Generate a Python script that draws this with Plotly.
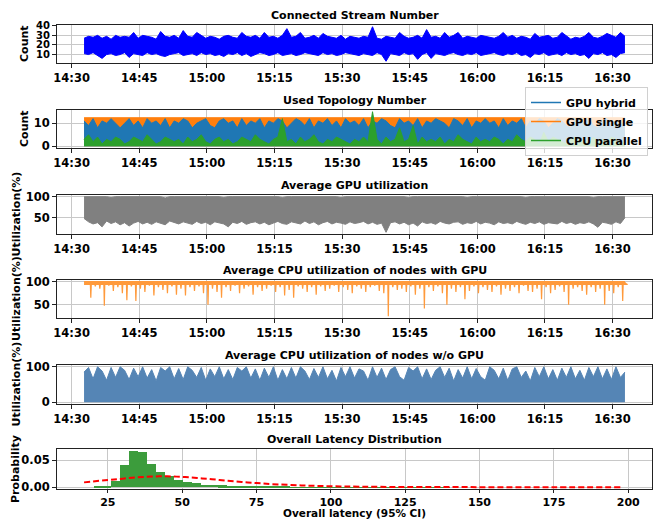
import pandas as pd
import plotly.graph_objects as go

# ---------------- data (per-minute envelopes) ----------------
start_time = "2019-01-01 14:32:45"
n_minutes = 121
times = pd.date_range(start_time, periods=n_minutes, freq="1min")

stream_hi = [27,29,28,30,27,29,26,30,28,29,
             28,33,27,30,29,28,26,34,29,28,
             30,27,35,29,28,33,30,27,29,28,
             26,29,30,28,27,33,29,28,30,27,
             33,28,29,27,30,37,28,29,33,27,
             28,30,27,32,29,28,27,30,26,29,
             28,27,29,28,39,27,26,29,28,27,
             33,29,27,28,30,27,36,28,29,27,
             33,28,30,33,27,29,28,27,30,29,
             28,27,29,33,28,30,27,29,28,26,
             32,28,29,30,27,28,33,29,26,28,
             27,29,33,28,27,29,32,30,28,33,
             29]
stream_lo = [11,10,12,9,6,10,11,9,10,12,
             7,11,10,9,12,10,11,9,8,10,
             11,12,9,10,11,9,12,10,11,9,
             10,8,11,10,12,9,11,8,10,12,
             11,9,10,12,9,10,11,9,10,12,
             11,10,9,12,10,11,9,10,12,11,
             10,9,11,10,9,12,10,3,11,10,
             9,12,10,11,5,10,12,6,11,10,
             9,11,12,10,9,11,10,12,9,10,
             11,12,10,9,11,10,12,9,10,7,
             11,10,12,9,10,11,9,12,10,11,
             9,10,6,11,10,12,9,10,7,11,
             12]

topo_single = [12.4,12.4,12.4,12.2,12.4,12.4,12.4,12.4,12.3,12.4,
               12.4,12.4,12.4,12.4,12.4,12.2,12.4,12.4,12.4,12.4,
               12.4,12.4,12.3,12.4,12.4,12.4,12.4,12.4,12.4,12.2,
               12.4,12.4,12.4,12.4,12.4,12.4,12.3,12.4,12.4,12.4,
               12.4,12.4,12.4,12.4,12.4,12.4,12.4,12.2,12.4,12.4,
               12.4,12.4,12.4,12.4,12.3,12.4,12.4,12.4,12.4,12.4,
               12.4,12.4,12.4,12.4,12.4,12.4,12.4,12.4,12.2,12.4,
               12.4,12.4,12.4,12.4,12.4,12.3,12.4,12.4,12.4,12.4,
               12.4,12.4,12.4,12.4,12.4,12.4,12.4,12.4,12.4,12.2,
               12.4,12.4,12.4,12.4,12.4,12.4,12.4,12.3,12.4,12.4,
               12.4,12.4,12.4,12.4,12.4,12.4,12.4,12.4,12.4,12.4,
               12.4,12.2,12.4,12.4,12.4,12.4,12.4,12.4,12.4,12.4,
               12.4]
topo_hybrid = [11,9,12,8,11,10,12,10,8,10,
               12,9,11,8,12,10,11,9,12,8,
               11,10,12,11,8,10,11,12,9,8,
               11,12,10,11,8,12,9,11,10,12,
               8,11,10,12,11,8,10,12,11,9,
               12,8,11,10,12,9,11,8,12,10,
               11,9,12,8,11,10,12,11,9,8,
               12,10,11,9,12,8,11,10,12,11,
               10,8,12,11,9,12,8,11,10,12,
               10,11,8,12,9,11,10,12,8,11,
               10,12,11,8,10,12,11,9,8,12,
               11,10,12,9,8,11,12,10,11,9,
               11]
topo_cpu = [3,5,2,4,1,3,2,4,3,1,
            2,4,3,2,5,3,1,2,4,3,
            2,3,1,4,2,3,5,2,1,3,
            4,2,3,1,2,4,3,2,5,3,
            2,1,3,4,12,2,3,1,4,2,
            3,5,2,1,3,2,4,3,2,1,
            3,2,4,2,15,3,1,4,2,3,
            8,2,3,9,1,4,2,3,2,4,
            1,3,2,5,3,2,1,4,2,3,
            2,4,3,1,3,2,5,3,2,4,
            3,1,6,2,4,3,2,1,3,4,
            2,3,1,4,2,3,2,4,3,1,
            2]

gpu_hi = [100,100,99,100,100,100,98,100,100,100,
          100,100,100,99,100,100,100,100,97,100,
          100,100,100,100,100,99,100,100,100,100,
          100,98,100,100,100,100,100,100,99,100,
          100,100,100,100,98,100,100,100,100,100,
          99,100,100,100,100,100,100,98,100,100,
          100,100,100,100,99,100,100,100,100,100,
          100,100,98,100,100,100,100,99,100,100,
          100,100,100,100,100,98,100,100,100,100,
          100,99,100,100,100,100,100,100,98,100,
          100,100,100,100,99,100,100,100,100,100,
          100,100,100,98,100,100,100,100,99,100,
          100]
gpu_lo = [48,40,35,38,28,42,36,40,33,38,
          30,37,41,35,39,34,40,36,33,42,
          38,35,40,37,34,41,36,39,33,40,
          37,35,28,39,36,41,34,38,40,35,
          39,33,37,41,36,34,40,38,35,42,
          36,40,33,38,41,35,39,37,34,40,
          36,38,41,35,39,34,37,15,38,40,
          35,39,33,37,30,40,36,38,34,41,
          37,35,39,40,34,38,36,41,35,39,
          37,33,40,36,38,35,41,37,34,39,
          36,40,34,38,37,35,41,36,39,34,
          38,36,40,35,27,39,37,34,40,36,
          50]

cpu_gpu_top = 100
cpu_gpu_band = 94
cpu_gpu_lo = [95,65,90,85,48,92,80,88,75,60,
              90,58,85,78,92,70,88,82,75,90,
              72,85,70,88,80,90,75,50,85,78,
              65,88,80,92,75,85,90,72,88,80,
              85,92,78,88,70,82,65,90,85,78,
              88,72,90,80,85,92,78,88,82,75,
              90,85,78,88,92,80,75,25,88,82,
              85,78,90,72,85,42,88,80,90,75,
              50,85,78,88,62,80,90,75,88,82,
              78,90,72,85,80,88,75,92,80,78,
              85,62,88,75,82,90,78,50,85,88,
              80,72,88,78,85,50,80,75,88,58,
              95]

cpu_nogpu_hi = [85,98,66,100,88,62,98,70,100,90,
                64,96,72,100,68,92,60,98,88,100,
                66,95,64,100,90,70,98,62,94,72,
                100,66,92,64,98,88,100,68,94,62,
                96,70,100,62,92,66,98,68,100,88,
                64,95,70,100,66,90,60,98,72,100,
                68,94,88,62,100,70,96,64,92,100,
                72,62,98,88,100,66,94,64,90,100,
                70,96,60,92,68,100,66,95,72,62,
                100,90,66,96,62,94,100,70,88,60,
                98,72,100,66,92,62,96,70,100,66,
                90,62,98,72,100,66,94,64,100,70,
                85]

lat_bin_start = 20.2
lat_bin_width = 3.0
lat_prob = [0.0008,0.0025,0.011,0.042,0.067,0.065,0.044,0.028,0.021,0.013,
            0.009,0.0075,0.005,0.004,0.0035,0.0025,0.002,0.0018,0.0015,0.0008,
            0.0005,0.0004,0.0003,0.0003,0.0003,0.0002,0.0002,0.0002,0.0001,0.0001,
            0.0001,0.0001,0.0001,0.0001,0.0001,0.0001,0.0001,0.0001,0.0001,0.0001]
fit_x = [17,25,30,35,40,45,50,55,60,65,70,75,80,90,100,110,125,150,175,198]
fit_y = [0.0090,0.0135,0.0160,0.0185,0.0200,0.0203,0.0192,0.0172,0.0148,0.0122,
         0.0098,0.0077,0.0058,0.0033,0.0018,0.0009,0.0004,0.0001,0.0,0.0]

x_range = ["2019-01-01 14:26:45", "2019-01-01 16:38:45"]
tick0 = "2019-01-01 14:30:00"

# ---------------- layout helpers ----------------
W, H = 654, 521
L, R = 57, 2
PW = W - L - R
FONT = "DejaVu Sans"
panels = [(25, 63), (110, 148), (195, 234), (280, 318), (365, 404), (449, 489)]
titles = ["Connected Stream Number", "Used Topology Number", "Average GPU utilization",
          "Average CPU utilization of nodes with GPU", "Average CPU utilization of nodes w/o GPU",
          "Overall Latency Distribution"]
ylabels = [("Count", 24), ("Count", 24), ("Utilization(%)", 16), ("Utilization(%)", 16),
           ("Utilization(%)", 16), ("Probability", 15)]

def py(p):
    return 1 - p / H

def px(p):
    return (p - L) / PW

fig = go.Figure()
bold = dict(family=FONT, size=11.5, color="black", weight="bold")
axis_common = dict(showline=True, mirror=True, linecolor="#222", linewidth=1,
                   ticks="outside", ticklen=4, tickcolor="#222", showgrid=True,
                   gridcolor="#c8c8c8", gridwidth=1, zeroline=False, tickfont=bold,
                   automargin=False)

layout = dict(width=W, height=H, margin=dict(l=L, r=R, t=0, b=0, autoexpand=False),
              plot_bgcolor="white", paper_bgcolor="white", showlegend=True,
              font=dict(family=FONT))
yranges = [[1.2, 40.8], [-0.75, 15.75], [11, 104], [21.3, 103.7], [-5, 105], [-0.0034, 0.0714]]
yticks = [[10, 20, 30, 40], [0, 10], [50, 100], [50, 100], [0, 100], [0, 0.05]]
for k, (t, b) in enumerate(panels):
    sfx = "" if k == 0 else str(k + 1)
    xa = dict(axis_common, domain=[0, 1], anchor="y" + sfx)
    if k < 5:
        xa.update(type="date", range=x_range, tick0=tick0, dtick=15 * 60 * 1000,
                  tickformat="%H:%M")
    else:
        xa.update(range=[7.9, 208], tickvals=[25, 50, 75, 100, 125, 150, 175, 200], ticklen=3,
                  tickfont=dict(bold, size=11))
    ya = dict(axis_common, domain=[py(b), py(t)], anchor="x" + sfx, range=yranges[k],
              tickvals=yticks[k])
    if k == 0:
        ya.update(tickfont=dict(bold, size=10))
    if k == 5:
        ya.update(tickformat=".2f")
    layout["xaxis" + sfx] = xa
    layout["yaxis" + sfx] = ya

annotations = []
for k, (t, b) in enumerate(panels):
    annotations.append(dict(text=titles[k], x=0.5, y=py(t - 10), xref="paper", yref="paper",
                            showarrow=False, font=dict(bold, size=11), xanchor="center",
                            yanchor="middle"))
    lab, lx = ylabels[k]
    annotations.append(dict(text=lab, x=px(lx), y=py((t + b) / 2), xref="paper", yref="paper",
                            showarrow=False, textangle=-90, font=dict(bold, size=11),
                            xanchor="center", yanchor="middle"))
annotations.append(dict(text="Overall latency (95% CI)", x=0.5, y=py(521), xref="paper",
                        yref="paper", showarrow=False, font=dict(bold, size=10.5),
                        xanchor="center", yanchor="bottom"))
layout["annotations"] = annotations
layout["legend"] = dict(x=px(648), y=py(87), xanchor="right", yanchor="top",
                        bgcolor="rgba(255,255,255,0.8)", bordercolor="#d0d0d0", borderwidth=1,
                        font=dict(bold, size=11), tracegroupgap=0, itemwidth=30,
                        traceorder="normal")
fig.update_layout(**layout)

# ---------------- panel 1 ----------------
fig.add_trace(go.Scatter(x=times, y=stream_lo, mode="lines", line=dict(color="blue", width=1),
                         showlegend=False, xaxis="x", yaxis="y"))
fig.add_trace(go.Scatter(x=times, y=stream_hi, mode="lines", line=dict(color="blue", width=1),
                         fill="tonexty", fillcolor="blue", showlegend=False, xaxis="x", yaxis="y"))

# ---------------- panel 2 ----------------
for vals, col in [(topo_single, "#ff7f0e"), (topo_hybrid, "#1f77b4"), (topo_cpu, "#2ca02c")]:
    fig.add_trace(go.Scatter(x=times, y=vals, mode="lines", line=dict(color=col, width=1),
                             fill="tozeroy", fillcolor=col, showlegend=False,
                             xaxis="x2", yaxis="y2"))
for name, col in [("GPU hybrid", "#1f77b4"), ("GPU single", "#ff7f0e"), ("CPU parallel", "#2ca02c")]:
    fig.add_trace(go.Scatter(x=[None], y=[None], mode="lines", line=dict(color=col, width=1.5),
                             name=name, xaxis="x2", yaxis="y2"))

# ---------------- panel 3 ----------------
fig.add_trace(go.Scatter(x=times, y=gpu_lo, mode="lines", line=dict(color="gray", width=1),
                         showlegend=False, xaxis="x3", yaxis="y3"))
fig.add_trace(go.Scatter(x=times, y=gpu_hi, mode="lines", line=dict(color="gray", width=1),
                         fill="tonexty", fillcolor="gray", showlegend=False, xaxis="x3", yaxis="y3"))

# ---------------- panel 4 ----------------
zx, zy = [], []
for tm, v in zip(times, cpu_gpu_lo):
    zx += [tm, tm + pd.Timedelta(seconds=24), tm + pd.Timedelta(seconds=30),
           tm + pd.Timedelta(seconds=36)]
    zy += [cpu_gpu_band, cpu_gpu_band, v, cpu_gpu_band]
fig.add_trace(go.Scatter(x=zx, y=zy, mode="lines", line=dict(color="#ff9a3c", width=1.2),
                         showlegend=False, xaxis="x4", yaxis="y4"))
fig.add_trace(go.Scatter(x=[times[0], times[-1]], y=[cpu_gpu_top, cpu_gpu_top], mode="lines",
                         line=dict(color="#ff9a3c", width=1.2), fill="tonexty",
                         fillcolor="#ff9a3c", showlegend=False, xaxis="x4", yaxis="y4"))

# ---------------- panel 5 ----------------
fig.add_trace(go.Scatter(x=times, y=cpu_nogpu_hi, mode="lines", line=dict(color="#5585b5", width=1),
                         fill="tozeroy", fillcolor="#5585b5", showlegend=False,
                         xaxis="x5", yaxis="y5"))

# ---------------- panel 6 ----------------
centers = [lat_bin_start + lat_bin_width * (i + 0.5) for i in range(len(lat_prob))]
fig.add_trace(go.Bar(x=centers, y=lat_prob, width=lat_bin_width, marker=dict(color="#3c9c3c",
                     line=dict(width=0)), showlegend=False, xaxis="x6", yaxis="y6"))
fig.add_trace(go.Scatter(x=fit_x, y=fit_y, mode="lines",
                         line=dict(color="red", width=2, dash="6px,3px"),
                         line_shape="spline", showlegend=False, xaxis="x6", yaxis="y6"))
fig.update_layout(bargap=0)

fig.write_html("out.html", config={"displayModeBar": False},
               post_script="document.body.style.margin='0px';")
